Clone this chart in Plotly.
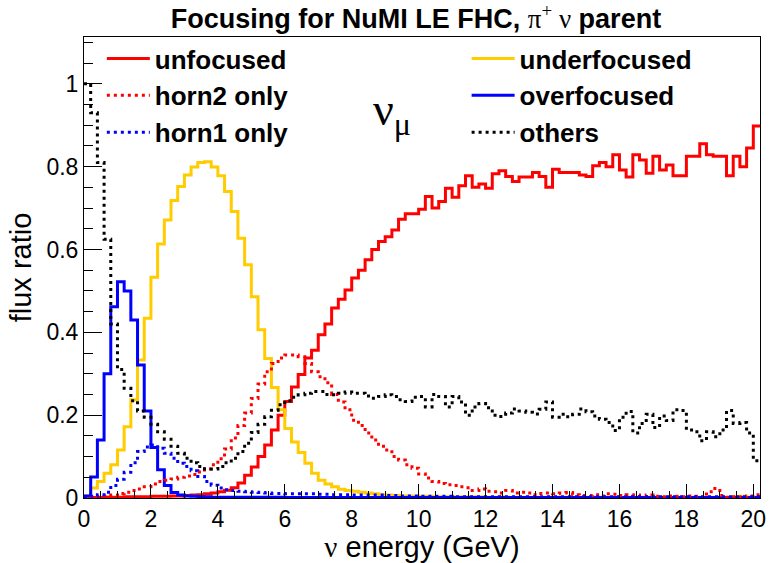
import numpy as np
import plotly.graph_objects as go

# ---------------- data (flux ratio per 0.2 GeV bin, 0 - 20.2 GeV) ----------------
bin_width = 0.2
n_bins = 101

unfocused = [0.000, 0.001, 0.001, 0.002, 0.002, 0.002, 0.003, 0.003, 0.003, 0.003,
             0.004, 0.004, 0.004, 0.005, 0.005, 0.006, 0.007, 0.008, 0.010, 0.012,
             0.015, 0.019, 0.025, 0.036, 0.055, 0.075, 0.100, 0.128, 0.164, 0.200,
             0.233, 0.268, 0.298, 0.338, 0.357, 0.394, 0.420, 0.459, 0.480, 0.502,
             0.531, 0.550, 0.575, 0.600, 0.619, 0.631, 0.647, 0.673, 0.686, 0.686,
             0.697, 0.728, 0.700, 0.716, 0.748, 0.726, 0.754, 0.778, 0.750, 0.758,
             0.748, 0.783, 0.790, 0.776, 0.764, 0.775, 0.775, 0.786, 0.776, 0.750,
             0.794, 0.786, 0.786, 0.786, 0.780, 0.776, 0.802, 0.810, 0.800, 0.829,
             0.792, 0.775, 0.829, 0.816, 0.784, 0.825, 0.792, 0.804, 0.778, 0.778,
             0.825, 0.825, 0.855, 0.829, 0.825, 0.825, 0.778, 0.825, 0.800, 0.845,
             0.898]

underfocused = [0.005, 0.024, 0.040, 0.060, 0.080, 0.116, 0.172, 0.237, 0.333, 0.434,
                0.533, 0.613, 0.671, 0.718, 0.752, 0.780, 0.799, 0.810, 0.812, 0.799,
                0.778, 0.740, 0.692, 0.627, 0.563, 0.486, 0.406, 0.337, 0.267, 0.213,
                0.168, 0.135, 0.110, 0.084, 0.060, 0.043, 0.034, 0.027, 0.021, 0.018,
                0.016, 0.014, 0.012, 0.010, 0.008, 0.007, 0.006, 0.005, 0.005, 0.004,
                0.004, 0.004, 0.003, 0.003, 0.003, 0.003, 0.003, 0.003, 0.003, 0.003,
                0.002, 0.002, 0.003, 0.002, 0.002, 0.002, 0.002, 0.002, 0.002, 0.002,
                0.002, 0.002, 0.002, 0.002, 0.002, 0.002, 0.002, 0.002, 0.002, 0.002,
                0.002, 0.002, 0.002, 0.002, 0.002, 0.002, 0.002, 0.002, 0.002, 0.002,
                0.002, 0.002, 0.002, 0.002, 0.002, 0.002, 0.002, 0.003, 0.004, 0.002,
                0.002]

overfocused = [0.005, 0.051, 0.140, 0.300, 0.462, 0.522, 0.500, 0.430, 0.321, 0.210,
               0.122, 0.068, 0.030, 0.013, 0.007, 0.005, 0.004, 0.003, 0.003, 0.002,
               0.002, 0.002, 0.002, 0.002, 0.002, 0.002, 0.002, 0.002, 0.002, 0.002,
               0.001, 0.001, 0.001, 0.001, 0.001, 0.001, 0.001, 0.001, 0.001, 0.001,
               0.001, 0.001, 0.001, 0.001, 0.001, 0.001, 0.001, 0.001, 0.001, 0.001,
               0.001, 0.001, 0.001, 0.001, 0.001, 0.001, 0.001, 0.001, 0.001, 0.001,
               0.001, 0.001, 0.001, 0.001, 0.001, 0.001, 0.001, 0.001, 0.001, 0.001,
               0.001, 0.001, 0.001, 0.001, 0.001, 0.001, 0.001, 0.001, 0.001, 0.001,
               0.001, 0.001, 0.001, 0.001, 0.001, 0.001, 0.001, 0.001, 0.001, 0.001,
               0.001, 0.001, 0.001, 0.001, 0.001, 0.001, 0.001, 0.001, 0.001, 0.001,
               0.001]

horn2_only = [0.000, 0.001, 0.002, 0.004, 0.007, 0.011, 0.014, 0.018, 0.022, 0.027,
              0.034, 0.040, 0.043, 0.046, 0.050, 0.053, 0.057, 0.063, 0.070, 0.080,
              0.095, 0.118, 0.145, 0.175, 0.205, 0.240, 0.275, 0.305, 0.325, 0.338,
              0.345, 0.345, 0.341, 0.325, 0.305, 0.293, 0.278, 0.250, 0.232, 0.213,
              0.188, 0.175, 0.157, 0.140, 0.125, 0.116, 0.100, 0.092, 0.080, 0.072,
              0.058, 0.048, 0.040, 0.035, 0.032, 0.030, 0.027, 0.025, 0.018, 0.022,
              0.016, 0.015, 0.012, 0.018, 0.012, 0.014, 0.012, 0.008, 0.011, 0.012,
              0.010, 0.012, 0.013, 0.008, 0.006, 0.006, 0.008, 0.005, 0.010, 0.009,
              0.006, 0.008, 0.007, 0.004, 0.007, 0.004, 0.003, 0.005, 0.004, 0.003,
              0.005, 0.004, 0.002, 0.015, 0.023, 0.006, 0.002, 0.003, 0.001, 0.005,
              0.008]

horn1_only = [0.002, 0.004, 0.008, 0.014, 0.030, 0.045, 0.062, 0.085, 0.112, 0.123,
              0.128, 0.120, 0.108, 0.096, 0.084, 0.076, 0.066, 0.052, 0.040, 0.031,
              0.024, 0.020, 0.018, 0.016, 0.015, 0.014, 0.013, 0.012, 0.011, 0.011,
              0.010, 0.010, 0.010, 0.010, 0.010, 0.009, 0.009, 0.008, 0.008, 0.008,
              0.007, 0.007, 0.007, 0.007, 0.007, 0.006, 0.006, 0.005, 0.005, 0.005,
              0.004, 0.004, 0.004, 0.004, 0.004, 0.003, 0.003, 0.003, 0.003, 0.003,
              0.003, 0.003, 0.003, 0.003, 0.003, 0.003, 0.003, 0.003, 0.003, 0.003,
              0.003, 0.003, 0.003, 0.003, 0.003, 0.003, 0.003, 0.003, 0.003, 0.003,
              0.003, 0.003, 0.003, 0.003, 0.003, 0.003, 0.003, 0.003, 0.003, 0.003,
              0.003, 0.003, 0.003, 0.003, 0.003, 0.003, 0.003, 0.003, 0.003, 0.003,
              0.003]

others = [1.000, 0.930, 0.810, 0.625, 0.420, 0.310, 0.265, 0.235, 0.210, 0.195,
          0.178, 0.160, 0.142, 0.125, 0.108, 0.096, 0.085, 0.076, 0.070, 0.070,
          0.076, 0.085, 0.096, 0.112, 0.132, 0.158, 0.178, 0.196, 0.212, 0.225,
          0.235, 0.243, 0.249, 0.253, 0.257, 0.257, 0.250, 0.249, 0.253, 0.256,
          0.253, 0.253, 0.246, 0.241, 0.245, 0.249, 0.245, 0.237, 0.233, 0.243,
          0.245, 0.220, 0.250, 0.245, 0.220, 0.245, 0.232, 0.200, 0.220, 0.228,
          0.218, 0.200, 0.197, 0.205, 0.215, 0.210, 0.207, 0.203, 0.214, 0.232,
          0.195, 0.202, 0.196, 0.202, 0.215, 0.208, 0.198, 0.190, 0.182, 0.163,
          0.195, 0.209, 0.157, 0.180, 0.202, 0.170, 0.198, 0.187, 0.213, 0.211,
          0.164, 0.160, 0.138, 0.160, 0.148, 0.164, 0.211, 0.180, 0.182, 0.157,
          0.090]

x_tick_values = list(range(0, 21, 2))
y_tick_values = [0, 0.2, 0.4, 0.6, 0.8, 1.0]
y_tick_labels = ["0", "0.2", "0.4", "0.6", "0.8", "1"]

# ---------------- figure ----------------
edges = np.arange(n_bins + 1) * bin_width

SANS = "Liberation Sans"
SERIF = "Liberation Serif"
DOT = "3px,4px"

# (name, values, color, dash, legend, rank)  -- draw order
series = [
    ("unfocused", unfocused, "#FF0000", "solid", "legend", 1),
    ("underfocused", underfocused, "#FFCC00", "solid", "legend2", 1),
    ("overfocused", overfocused, "#0000FF", "solid", "legend2", 2),
    ("horn2 only", horn2_only, "#FF0000", DOT, "legend", 2),
    ("horn1 only", horn1_only, "#0000FF", DOT, "legend", 3),
    ("others", others, "#000000", DOT, "legend2", 3),
]

fig = go.Figure()
for name, vals, color, dash, leg, rank in series:
    yv = list(vals) + [vals[-1]]
    fig.add_trace(go.Scatter(
        x=edges, y=yv, mode="lines", name=name,
        line=dict(color=color, width=3, dash=dash, shape="hv"),
        legend=leg, legendrank=rank, hoverinfo="skip",
    ))

legend_common = dict(
    xanchor="left", yanchor="top",
    font=dict(family=SANS, size=26, color="black", weight="bold"),
    bgcolor="rgba(0,0,0,0)", borderwidth=0, itemwidth=43,
    traceorder="normal", tracegroupgap=0,
)

fig.update_layout(
    width=772, height=563,
    margin=dict(l=84, r=6, t=37, b=65),
    paper_bgcolor="white", plot_bgcolor="white",
    title=dict(
        text="Focusing for NuMI LE FHC, "
             "<span style=\"font-family:Liberation Serif;font-weight:normal\">π<sup>+</sup> ν</span> parent",
        x=416 / 772, xanchor="center", xref="container",
        y=1 - 19 / 563, yanchor="middle", yref="container",
        font=dict(family=SANS, size=27, color="black", weight="bold"),
    ),
    legend=dict(x=0.0264, y=1.004, **legend_common),
    legend2=dict(x=0.566, y=1.004, **legend_common),
    showlegend=True,
    xaxis=dict(
        range=[0, n_bins * bin_width], showgrid=False, zeroline=False,
        showline=True, linecolor="black", linewidth=1, mirror=True,
        ticks="inside", ticklen=14, tickwidth=1, tickcolor="black",
        tickvals=x_tick_values, ticktext=[str(v) for v in x_tick_values],
        ticklabeloverflow="allow",
        minor=dict(dtick=0.5, tick0=0, ticks="inside", ticklen=7, tickcolor="black", tickwidth=1),
        tickfont=dict(family=SANS, size=23, color="black"),
        title=dict(text="<span style=\"font-family:Liberation Serif\">ν</span> energy (GeV)",
                   font=dict(family=SANS, size=29, color="black"), standoff=4),
    ),
    yaxis=dict(
        range=[0, 1.113], showgrid=False, zeroline=False,
        showline=True, linecolor="black", linewidth=1, mirror=True,
        ticks="inside", ticklen=18, tickwidth=1, tickcolor="black",
        tickvals=y_tick_values, ticktext=y_tick_labels,
        minor=dict(dtick=0.05, tick0=0, ticks="inside", ticklen=9, tickcolor="black", tickwidth=1),
        tickfont=dict(family=SANS, size=23, color="black"),
        title=dict(text="flux ratio", font=dict(family=SANS, size=29, color="black"), standoff=6),
    ),
)

fig.add_annotation(
    x=9.19, y=0.93, xref="x", yref="y", showarrow=False,
    text="ν<sub>μ</sub>", xanchor="center", yanchor="middle",
    font=dict(family=SERIF, size=46, color="black"),
)

fig.write_html("out.html")
